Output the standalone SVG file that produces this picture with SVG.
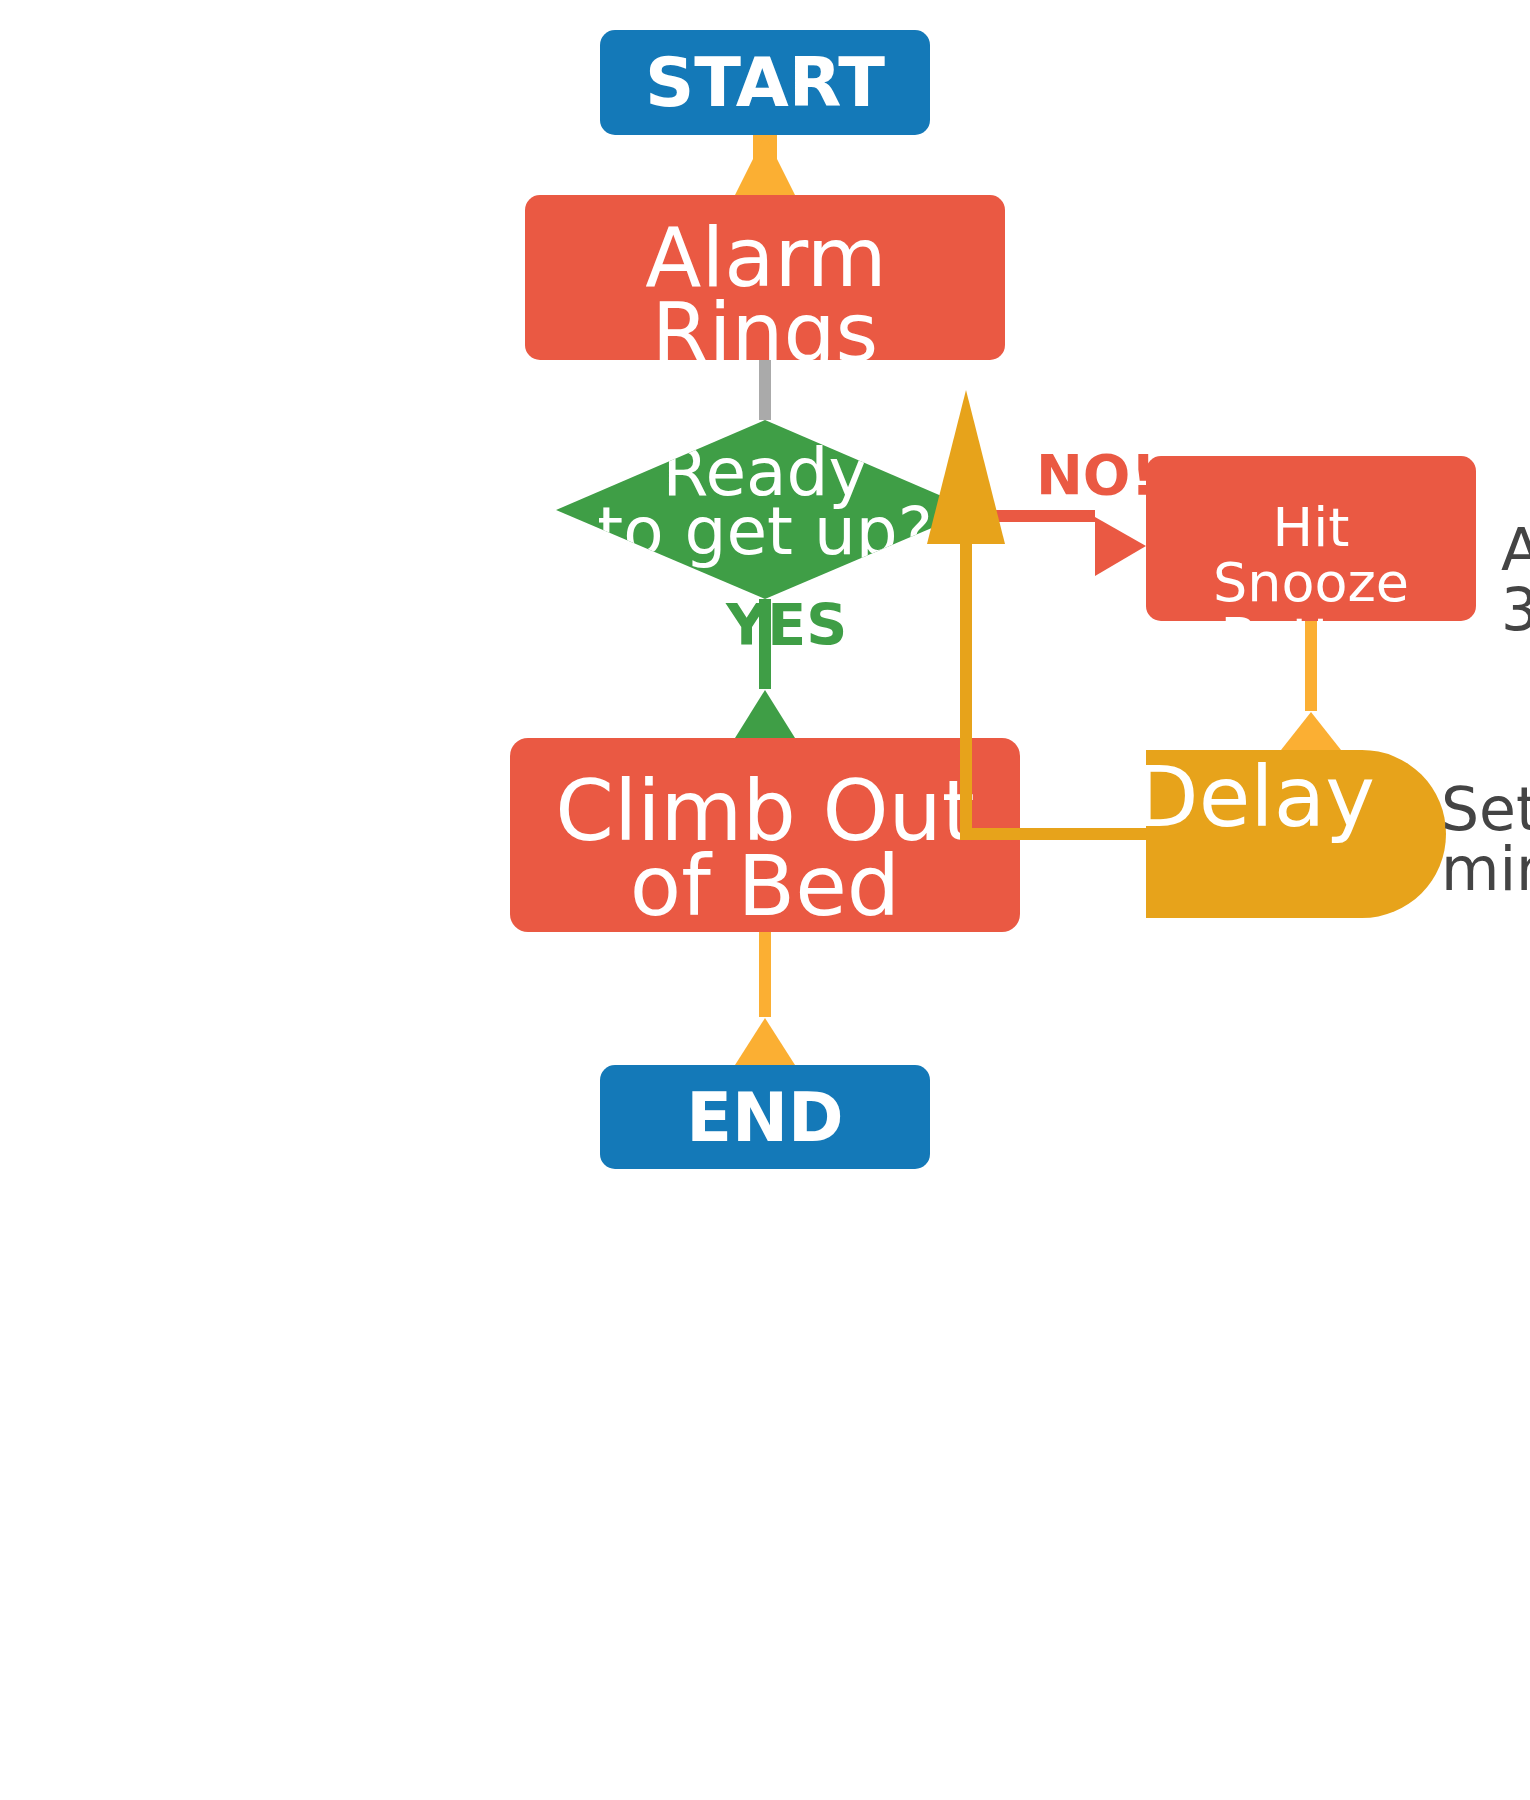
<svg xmlns="http://www.w3.org/2000/svg" width="1530" height="1800" viewBox="0 0 1530 1800">
<style>
text{font-family:"DejaVu Sans","Liberation Sans",sans-serif;}
.w{fill:#ffffff;}
.b{font-weight:bold;}
.m{text-anchor:middle;}
.red{fill:#EA5943;}
.blue{fill:#1479B8;}
.green{fill:#3F9E46;}
.gold{fill:#E7A31B;}
.note{fill:#444444;}
.or{fill:#FBAF33;}
</style>
<defs>
<clipPath id="cAlarm"><rect x="525" y="195" width="480" height="165" rx="15"/></clipPath>
<clipPath id="cReady"><polygon points="765,420 974,510 765,599 556,510"/></clipPath>
<clipPath id="cClimb"><rect x="510" y="738" width="510" height="194" rx="18"/></clipPath>
<clipPath id="cHit"><rect x="1146" y="456" width="330" height="165" rx="15"/></clipPath>
<clipPath id="cDelay"><path d="M1146,750 H1362 A84,84 0 0 1 1362,918 H1146 Z"/></clipPath>
</defs>

<g id="labels">
<text class="b green" x="726" y="645" font-size="57">YES</text>
<text class="b red" x="1036" y="494" font-size="56">NO!</text>
</g>

<g id="start">
<rect class="blue" x="600" y="30" width="330" height="105" rx="15"/>
<text class="w b m" x="765" y="106" font-size="68.5">START</text>
</g>

<g id="alarm">
<rect class="red" x="525" y="195" width="480" height="165" rx="15"/>
<g clip-path="url(#cAlarm)">
<text class="w m" x="766" y="286" font-size="82">Alarm</text>
<text class="w m" x="765" y="361" font-size="82">Rings</text>
</g>
</g>

<g id="ready">
<polygon class="green" points="765,420 974,510 765,599 556,510"/>
<g clip-path="url(#cReady)">
<text class="w m" x="765" y="495" font-size="66">Ready</text>
<text class="w m" x="765" y="554" font-size="66">to get up?</text>
</g>
</g>

<g id="climb">
<rect class="red" x="510" y="738" width="510" height="194" rx="18"/>
<g clip-path="url(#cClimb)">
<text class="w m" x="765" y="840" font-size="84">Climb Out</text>
<text class="w m" x="765" y="915" font-size="84">of Bed</text>
</g>
</g>

<g id="end">
<rect class="blue" x="600" y="1065" width="330" height="104" rx="15"/>
<text class="w b m" x="765" y="1141" font-size="67">END</text>
</g>

<g id="snooze">
<rect class="red" x="1146" y="456" width="330" height="165" rx="15"/>
<g clip-path="url(#cHit)">
<text class="w m" x="1311" y="546" font-size="54">Hit</text>
<text class="w m" x="1311" y="601" font-size="54">Snooze</text>
<text class="w m" x="1311" y="656" font-size="54">Button</text>
</g>
<text class="note" x="1501" y="570" font-size="59">A</text>
<text class="note" x="1501" y="630" font-size="59">3</text>
</g>

<g id="delay">
<path class="gold" d="M1146,750 H1362 A84,84 0 0 1 1362,918 H1146 Z"/>
<g clip-path="url(#cDelay)">
<text class="w" x="1134" y="826" font-size="84">Delay</text>
</g>
<text class="note" x="1441" y="830" font-size="60">Set</text>
<text class="note" x="1441" y="890" font-size="60">min</text>
</g>

<g id="connectors">
<rect class="or" x="753" y="135" width="24" height="25"/>
<polygon class="or" points="765,135 795,195 735,195"/>
<rect x="759" y="360" width="12" height="60" fill="#AAAAAA"/>
<rect class="green" x="759" y="599" width="12" height="90"/>
<polygon class="green" points="765,690 795,738 735,738"/>
<rect class="or" x="759" y="932" width="12" height="85"/>
<polygon class="or" points="765,1018 795,1065 735,1065"/>
<rect class="or" x="1305" y="621" width="12" height="90"/>
<polygon class="or" points="1311,712 1341,750 1281,750"/>
<rect class="red" x="985" y="510" width="110" height="12"/>
<polygon class="red" points="1095,517 1146,546 1095,576"/>
<polyline points="1146,834 966,834 966,540" fill="none" stroke="#E7A31B" stroke-width="12" stroke-linejoin="miter"/>
<polygon class="gold" points="966,390 1005,544 927,544"/>
</g>
</svg>
